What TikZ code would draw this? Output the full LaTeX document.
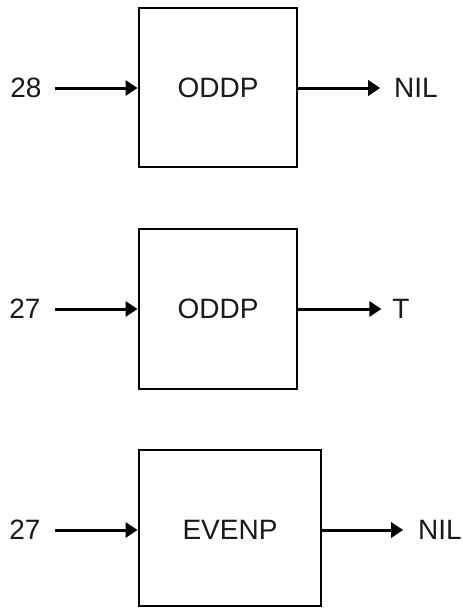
\documentclass[tikz,border=0pt]{standalone}
\usepackage{fontspec}
\setmainfont{Liberation Sans}
\usetikzlibrary{arrows.meta}
\begin{document}
\begin{tikzpicture}[x=1pt,y=-1pt,
  box/.style={draw=black, line width=2.9pt, inner sep=0pt, font=\fontsize{28}{30}\selectfont, text=black!90},
  lab/.style={inner xsep=0pt, inner ysep=0pt, outer sep=0pt, font=\fontsize{28}{30}\selectfont, text=black!90},
  arr/.style={line width=3pt, draw=black, -{Triangle[length=12pt,width=15pt]}}
]
\useasboundingbox (0,0) rectangle (463,608);
% row 1
\node[box, minimum width=158pt, minimum height=159pt] (b1) at (218,87.5) {ODDP};
\node[lab] (i1) at (26,88) {28};
\node[lab] (o1) at (416,88) {NIL};
\coordinate (i1s) at ([xshift=13pt]i1.east);
\coordinate (o1e) at ([xshift=-14pt]o1.west);
\draw[arr] (i1s) -- (i1s -| b1.west);
\draw[arr] (b1.east |- o1e) -- (o1e);
% row 2
\node[box, minimum width=158pt, minimum height=160pt] (b2) at (218,309) {ODDP};
\node[lab] (i2) at (25,309) {27};
\node[lab] (o2) at (401,309) {T};
\coordinate (i2s) at ([xshift=14pt]i2.east);
\coordinate (o2e) at ([xshift=-11pt]o2.west);
\draw[arr] (i2s) -- (i2s -| b2.west);
\draw[arr] (b2.east |- o2e) -- (o2e);
% row 3
\node[box, minimum width=182pt, minimum height=156pt] (b3) at (230,528) {};
\node[lab] at (230,530) (t3) {EVENP};
\node[lab] (i3) at (25,530) {27};
\node[lab] (o3) at (440,530) {NIL};
\coordinate (i3s) at ([xshift=14pt]i3.east);
\coordinate (o3e) at ([xshift=-15pt]o3.west);
\draw[arr] (i3s) -- (i3s -| b3.west);
\draw[arr] (b3.east |- o3e) -- (o3e);
\end{tikzpicture}
\end{document}
